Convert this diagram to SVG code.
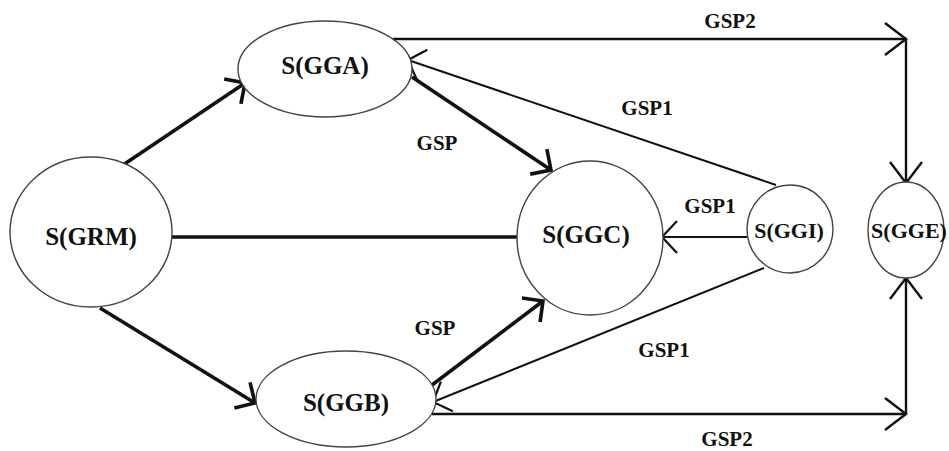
<svg xmlns="http://www.w3.org/2000/svg" width="949" height="451" viewBox="0 0 949 451">
  <style>
    .node { fill: #ffffff; stroke: #444444; stroke-width: 1.4; }
    .nlabel { font-family: "Liberation Serif", "Times New Roman", serif; font-size: 25px; font-weight: bold; fill: #111111; text-anchor: middle; }
    .nlabel-sm { font-family: "Liberation Serif", "Times New Roman", serif; font-size: 22px; font-weight: bold; fill: #111111; text-anchor: middle; }
    .elabel { font-family: "Liberation Serif", "Times New Roman", serif; font-size: 21px; font-weight: bold; fill: #111111; text-anchor: middle; }
    .thick { stroke: #111111; stroke-width: 3.6; fill: none; }
    .thin { stroke: #111111; stroke-width: 2; fill: none; }
    .mid { stroke: #111111; stroke-width: 2.4; fill: none; }
  </style>
  <defs>
    <marker id="headThick" markerUnits="userSpaceOnUse" viewBox="-20 -20 24 40" refX="0" refY="0" markerWidth="24" markerHeight="40" orient="auto" overflow="visible">
      <path d="M-15,-15 L0,0 L-15,15" fill="none" stroke="#111111" stroke-width="3.6" stroke-linejoin="miter"/>
    </marker>
    <marker id="headThin" markerUnits="userSpaceOnUse" viewBox="-20 -20 24 40" refX="0" refY="0" markerWidth="24" markerHeight="40" orient="auto" overflow="visible">
      <path d="M-15,-16 L0,0 L-15,16" fill="none" stroke="#111111" stroke-width="2.2" stroke-linejoin="miter"/>
    </marker>
    <marker id="headLong" markerUnits="userSpaceOnUse" viewBox="-26 -20 30 40" refX="0" refY="0" markerWidth="30" markerHeight="40" orient="auto" overflow="visible">
      <path d="M-21,-16 L0,0 L-21,16" fill="none" stroke="#111111" stroke-width="2.4" stroke-linejoin="miter"/>
    </marker>
  </defs>

  <rect x="0" y="0" width="949" height="451" fill="#ffffff"/>

  <g id="connectors">
    <!-- GRM to GGA / GGB, and plain link to GGC -->
    <line class="thick" x1="123" y1="165" x2="245" y2="83" marker-end="url(#headThick)"/>
    <line class="thick" x1="100" y1="308" x2="255" y2="403" marker-end="url(#headThick)"/>
    <line class="thick" x1="172" y1="237" x2="517" y2="237"/>
    <!-- GSP into GGC -->
    <line class="thick" x1="412" y1="77" x2="551" y2="170" marker-end="url(#headThick)"/>
    <line class="thick" x1="432" y1="385" x2="543" y2="301" marker-end="url(#headThick)"/>
    <!-- GSP1 out of GGI -->
    <line class="thin" x1="776" y1="185" x2="408" y2="60" marker-end="url(#headThin)"/>
    <line class="thin" x1="747" y1="237" x2="662" y2="237" marker-end="url(#headThin)"/>
    <line class="thin" x1="764" y1="268" x2="433" y2="402" marker-end="url(#headThin)"/>
    <!-- GSP2 routes into GGE -->
    <line class="mid" x1="393" y1="39" x2="906" y2="39" marker-end="url(#headLong)"/>
    <line class="mid" x1="906" y1="39" x2="906" y2="183" marker-end="url(#headLong)"/>
    <line class="mid" x1="432" y1="414" x2="906" y2="414" marker-end="url(#headLong)"/>
    <line class="mid" x1="906" y1="414" x2="906" y2="278" marker-end="url(#headLong)"/>
  </g>

  <g id="node-GRM">
    <ellipse class="node" cx="91" cy="232" rx="81" ry="75"/>
    <text class="nlabel" x="91" y="245">S(GRM)</text>
  </g>
  <g id="node-GGA">
    <ellipse class="node" cx="325" cy="69" rx="87" ry="48"/>
    <text class="nlabel" x="325" y="74">S(GGA)</text>
  </g>
  <g id="node-GGB">
    <ellipse class="node" cx="346" cy="399" rx="90" ry="48"/>
    <text class="nlabel" x="346" y="411">S(GGB)</text>
  </g>
  <g id="node-GGC">
    <ellipse class="node" cx="590" cy="238" rx="73" ry="77"/>
    <text class="nlabel" x="586" y="243">S(GGC)</text>
  </g>
  <g id="node-GGI">
    <ellipse class="node" cx="790" cy="229" rx="43" ry="44"/>
    <text class="nlabel-sm" x="789" y="238">S(GGI)</text>
  </g>
  <g id="node-GGE">
    <ellipse class="node" cx="906" cy="230" rx="38" ry="48"/>
    <text class="nlabel-sm" x="909" y="238">S(GGE)</text>
  </g>

  <g id="edge-labels">
    <text class="elabel" x="730" y="28">GSP2</text>
    <text class="elabel" x="647" y="115">GSP1</text>
    <text class="elabel" x="437" y="150">GSP</text>
    <text class="elabel" x="710" y="213">GSP1</text>
    <text class="elabel" x="435" y="335">GSP</text>
    <text class="elabel" x="664" y="357">GSP1</text>
    <text class="elabel" x="727" y="446">GSP2</text>
  </g>
</svg>
